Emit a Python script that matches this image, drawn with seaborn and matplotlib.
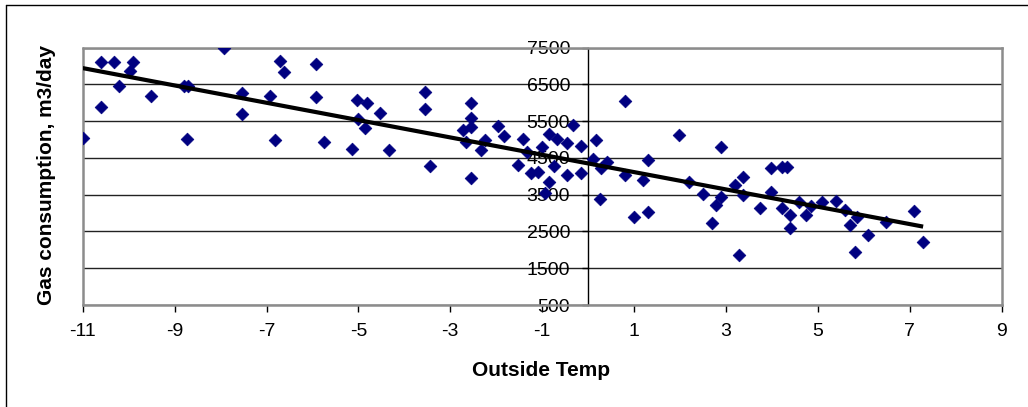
import matplotlib
matplotlib.use("Agg")
import matplotlib.pyplot as plt
import seaborn as sns
import pandas as pd
from matplotlib.lines import Line2D

# Outside temperature (deg C)
temp = [-11.0, -10.61, -10.61, -10.31, -10.21, -9.98, -9.91, -9.51, -8.79, -8.70,
        -8.72, -7.92, -7.53, -7.53, -6.93, -6.82, -6.71, -6.62, -5.92, -5.92,
        -5.74, -5.13, -5.04, -4.82, -5.01, -4.85, -4.53, -4.33, -3.55, -3.55,
        -3.45, -2.72, -2.65, -2.54, -2.54, -2.54, -2.54, -2.34, -2.25, -1.96,
        -1.84, -1.42, -1.53, -1.32, -1.24, -1.10, -1.01, -0.86, -0.85, -0.93,
        -0.74, -0.68, -0.45, -0.45, -0.33, -0.16, -0.15, 0.17, 0.10, 0.29,
        0.41, 0.26, 0.80, 0.81, 1.19, 1.30, 0.99, 1.30, 1.98, 2.19,
        2.49, 2.89, 2.89, 2.78, 2.69, 3.19, 3.38, 3.38, 3.29, 3.74,
        3.97, 3.97, 4.21, 4.32, 4.21, 4.40, 4.40, 4.59, 4.75, 4.84,
        5.10, 5.40, 5.60, 5.69, 5.85, 5.80, 6.09, 6.48, 7.10, 7.29]

# Gas consumption (m3/day)
gas = [5030, 7100, 5890, 7120, 6460, 6875, 7100, 6180, 6460, 6460,
       5010, 7500, 6260, 5690, 6190, 5000, 7150, 6830, 7055, 6150,
       4925, 4750, 6075, 6000, 5555, 5310, 5715, 4710, 6285, 5825,
       4280, 5260, 4940, 6000, 5585, 5350, 3960, 4720, 5000, 5370,
       5100, 5020, 4305, 4670, 4090, 4125, 4785, 5140, 3855, 3540,
       4290, 5010, 4900, 4035, 5410, 4835, 4080, 4990, 4465, 4225,
       4390, 3390, 4035, 6060, 3900, 4445, 2905, 3040, 5125, 3855,
       3520, 4805, 3450, 3220, 2725, 3765, 3990, 3495, 1860, 3130,
       4220, 3585, 4265, 4245, 3130, 2950, 2590, 3315, 2950, 3195,
       3315, 3330, 3085, 2680, 2905, 1950, 2405, 2770, 3070, 2225]

x_ticks = [-11, -9, -7, -5, -3, -1, 1, 3, 5, 7, 9]
y_ticks = [500, 1500, 2500, 3500, 4500, 5500, 6500, 7500]

df = pd.DataFrame({"Outside Temp": temp, "Gas": gas})

sns.set_theme(style="white")
plt.rcParams["font.family"] = ["Liberation Sans", "DejaVu Sans"]
plt.rcParams["text.color"] = "black"
plt.rcParams["xtick.color"] = "black"
plt.rcParams["ytick.color"] = "black"
plt.rcParams["xtick.labelcolor"] = "black"
plt.rcParams["ytick.labelcolor"] = "black"

W, H = 1028, 407
fig = plt.figure(figsize=(W / 100, H / 100), dpi=100)
fig.patch.set_facecolor("white")

# plot area in pixels
L, R, T, B = 82.7, 1001.7, 47.7, 305.0
ax = fig.add_axes([L / W, 1 - B / H, (R - L) / W, (B - T) / H])
ax.set_facecolor("white")

sns.scatterplot(data=df, x="Outside Temp", y="Gas", marker="D", s=42,
                color="#000080", edgecolor="#000080", linewidth=0.5,
                ax=ax, zorder=3, legend=False)
sns.regplot(data=df, x="Outside Temp", y="Gas", scatter=False, ci=None,
            line_kws=dict(color="black", lw=3, solid_capstyle="butt", zorder=4),
            ax=ax, truncate=True)

ax.set_xlim(x_ticks[0], x_ticks[-1])
ax.set_ylim(y_ticks[0], y_ticks[-1])
ax.set_xticks(x_ticks)
ax.set_yticks(y_ticks)
ax.set_xticklabels([str(v) for v in x_ticks])
ax.set_yticklabels([str(v) for v in y_ticks])

ax.yaxis.grid(True, color="#222222", lw=1.0)
ax.xaxis.grid(False)
ax.set_axisbelow(True)

# spines: y-axis crosses at x = 0
for s in ["top", "right", "bottom"]:
    ax.spines[s].set_color("#8c8c8c")
    ax.spines[s].set_linewidth(1.8)
ax.spines["left"].set_position(("data", 0))
ax.spines["left"].set_color("black")
ax.spines["left"].set_linewidth(1.0)
ax.spines["left"].set_zorder(2)
# gray plot-area border on the left edge
ax.add_line(Line2D([0, 0], [0, 1], transform=ax.transAxes, color="#8c8c8c",
                   lw=1.8, clip_on=False, zorder=2))

ax.tick_params(axis="x", direction="out", length=5, width=1, color="black",
               labelcolor="black", labelsize=14, pad=8, bottom=True)
ax.tick_params(axis="y", direction="out", length=4, width=1, color="black",
               labelcolor="black", labelsize=14, pad=9, left=True)

ax.set_xlabel("")
ax.set_ylabel("")
fig.text(541 / W, 1 - 371 / H, "Outside Temp", ha="center", va="center",
         fontsize=15, fontweight="bold", color="black")
fig.text(47 / W, 1 - 175 / H, "Gas consumption, m3/day", ha="center",
         va="center", rotation=90, fontsize=15, fontweight="bold", color="black")

# outer chart frame
fig.add_artist(Line2D([5.5 / W, 5.5 / W], [0, 1 - 5 / H], transform=fig.transFigure,
                      color="black", lw=1))
fig.add_artist(Line2D([5.5 / W, 1], [1 - 5 / H, 1 - 5 / H], transform=fig.transFigure,
                      color="black", lw=1))

fig.savefig("out.png", dpi=100, facecolor="white")
